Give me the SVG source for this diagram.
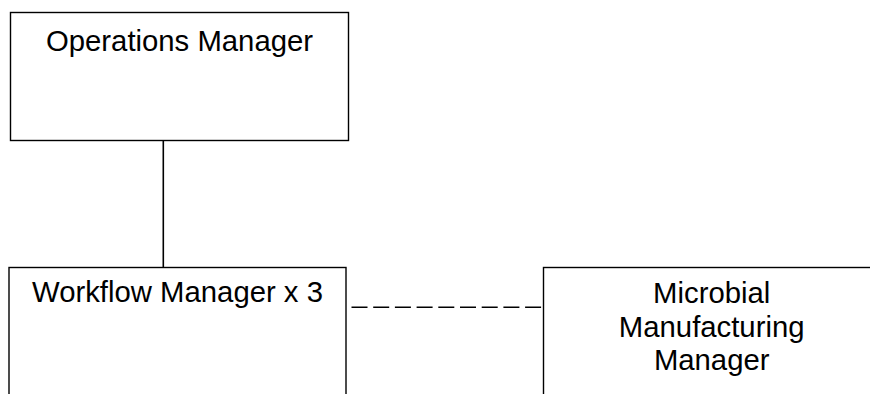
<svg xmlns="http://www.w3.org/2000/svg" width="870" height="394" viewBox="0 0 870 394">
<style>
.box{fill:#fff;stroke:#000;stroke-width:1.4}
.t{font-family:"Liberation Sans",Arial,sans-serif;font-size:29.3px;fill:#000;text-anchor:middle}
.c{stroke:#000;stroke-width:1.6;fill:none}
</style>
<rect width="870" height="394" fill="#fff"/>
<g id="connectors">
<line class="c" x1="163.3" y1="140.5" x2="163.3" y2="267.5"/>
<line class="c" x1="351.5" y1="307.3" x2="543.5" y2="307.3" stroke-dasharray="16,5.7"/>
</g>
<g id="ops">
<rect class="box" x="10.5" y="12.5" width="338" height="128"/>
<text class="t" x="179.5" y="50.5">Operations Manager</text>
</g>
<g id="workflow">
<rect class="box" x="9" y="267.5" width="337" height="140"/>
<text class="t" x="177.5" y="302">Workflow Manager x 3</text>
</g>
<g id="microbial">
<rect class="box" x="543.5" y="267.5" width="340" height="140"/>
<text class="t" x="711.7" y="303.3">Microbial</text>
<text class="t" x="711.7" y="336.8">Manufacturing</text>
<text class="t" x="711.7" y="370.3">Manager</text>
</g>
</svg>
